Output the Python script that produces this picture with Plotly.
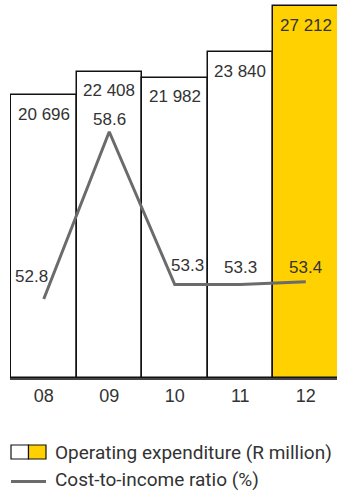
import plotly.graph_objects as go

# Data
years = ["08", "09", "10", "11", "12"]
opex = [20696, 22408, 21982, 23840, 27212]          # R million
cost_income = [52.8, 58.6, 53.3, 53.3, 53.4]        # %
opex_labels = ["20 696", "22 408", "21 982", "23 840", "27 212"]
ratio_labels = ["52.8", "58.6", "53.3", "53.3", "53.4"]

bar_colors = ["#FFFFFF", "#FFFFFF", "#FFFFFF", "#FFFFFF", "#FFD100"]
text_color = "#333333"
line_color = "#6B6B6B"
num_font = "Liberation Sans"
legend_font = "Roboto"

idx = list(range(len(years)))

fig = go.Figure()

fig.add_trace(go.Bar(
    x=idx, y=opex,
    marker=dict(color=bar_colors, line=dict(color="#111111", width=1.5)),
    width=1.0,
    showlegend=False,
    hoverinfo="skip",
))

fig.add_trace(go.Scatter(
    x=idx, y=cost_income,
    mode="lines",
    line=dict(color=line_color, width=3),
    yaxis="y2",
    showlegend=False,
    hoverinfo="skip",
))

annotations = []
# value labels just inside the top of each bar
for i, v, lab in zip(idx, opex, opex_labels):
    annotations.append(dict(
        x=i, y=v, xref="x", yref="y", text=lab, showarrow=False,
        yanchor="middle", xanchor="center", yshift=-19,
        font=dict(family=num_font, size=17, color=text_color),
    ))

# ratio labels next to the line
offsets = [(-12, 23), (0, 12), (13, 19), (0, 17), (0, 14)]
for i, v, lab, (dx, dy) in zip(idx, cost_income, ratio_labels, offsets):
    annotations.append(dict(
        x=i, y=v, xref="x", yref="y2", text=lab, showarrow=False,
        yanchor="middle", xanchor="center", xshift=dx, yshift=dy,
        font=dict(family=num_font, size=17, color=text_color),
    ))

W, H = 337, 491
ML, MB = 10, 113
plot_w = W - ML
plot_h = H - MB

def px_x(p):
    return (p - ML) / plot_w

def px_y(p):
    return (H - MB - p) / plot_h

# legend rows
annotations.append(dict(
    x=px_x(54), y=px_y(452.5), xref="paper", yref="paper",
    text="Operating expenditure (R million)",
    showarrow=False, xanchor="left", yanchor="middle", borderpad=0,
    font=dict(family=legend_font, size=19, color=text_color),
))
annotations.append(dict(
    x=px_x(54), y=px_y(479.5), xref="paper", yref="paper",
    text="Cost-to-income ratio (%)",
    showarrow=False, xanchor="left", yanchor="middle", borderpad=0,
    font=dict(family=legend_font, size=19, color=text_color),
))

shapes = [
    dict(type="rect", xref="paper", yref="paper",
         x0=px_x(11), x1=px_x(28.5), y0=px_y(459), y1=px_y(445),
         fillcolor="#FFFFFF", line=dict(color="#111111", width=1.2)),
    dict(type="rect", xref="paper", yref="paper",
         x0=px_x(28.5), x1=px_x(46), y0=px_y(459), y1=px_y(445),
         fillcolor="#FFD100", line=dict(color="#111111", width=1.2)),
    dict(type="line", xref="paper", yref="paper",
         x0=px_x(11), x1=px_x(46), y0=px_y(481.5), y1=px_y(481.5),
         line=dict(color=line_color, width=3)),
]

fig.update_layout(
    width=W, height=H,
    margin=dict(l=ML, r=0, t=0, b=MB),
    paper_bgcolor="white", plot_bgcolor="white",
    bargap=0,
    xaxis=dict(
        range=[-0.5153, 4.477],
        tickmode="array", tickvals=idx, ticktext=years,
        showgrid=False, zeroline=False,
        showline=True, linecolor="#444444", linewidth=2,
        ticks="", tickfont=dict(family=num_font, size=18, color=text_color),
    ),
    yaxis=dict(range=[0, 27672], visible=False, showgrid=False, zeroline=False),
    yaxis2=dict(range=[50.06, 63.17], overlaying="y", visible=False,
                showgrid=False, zeroline=False),
    annotations=annotations,
    shapes=shapes,
)

fig.write_html("out.html")
